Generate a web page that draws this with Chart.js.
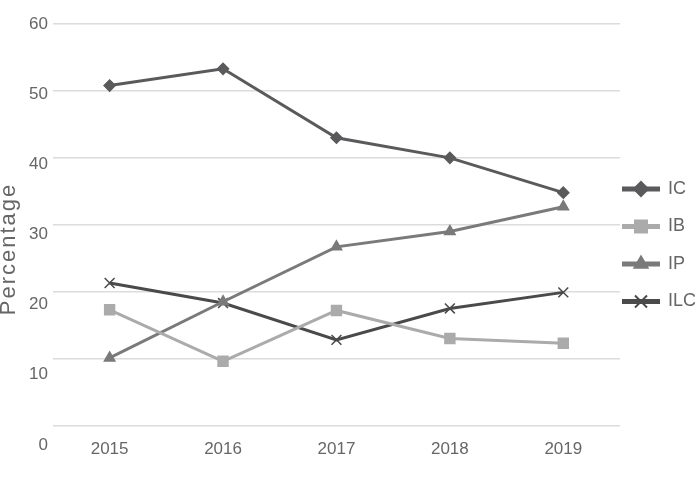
<!DOCTYPE html>
<html>
<head>
<meta charset="utf-8">
<script src="https://cdn.jsdelivr.net/npm/chart.js@4.4.0/dist/chart.umd.min.js"></script>
<style>
  html, body { margin: 0; padding: 0; background: #fff; }
  #wrap { width: 696px; height: 497px; }
</style>
</head>
<body>
<div id="wrap"><canvas id="pct-chart" width="696" height="497"></canvas></div>
<script>
const years = ['2015', '2016', '2017', '2018', '2019'];
const icValues = [50.8, 53.3, 43.0, 40.0, 34.8];
const ibValues = [17.3, 9.6, 17.2, 13.0, 12.3];
const ipValues = [10.1, 18.5, 26.7, 29.0, 32.7];
const ilcValues = [21.3, 18.3, 12.8, 17.5, 19.9];
const yTicks = [0, 10, 20, 30, 40, 50, 60];
const yTitle = 'Percentage';

const fontFamily = '"Helvetica Neue", Helvetica, "Liberation Sans", Arial, sans-serif';
const textColor = '#666';

function makeSet(label, data, color, style, radius)
{
  return {
    label: label,
    data: data,
    borderColor: color,
    backgroundColor: color,
    borderWidth: 3,
    pointStyle: style,
    pointRadius: radius,
    pointBorderWidth: 1.5,
    pointBackgroundColor: color,
    pointBorderColor: color,
    tension: 0,
    fill: false,
  };
}

// force the 0..60 step 10 ticks (also on the label axis, where 0 sits a bit below the plot)
function setTicks(scale)
{
  scale.ticks = yTicks.map(v => ({ value: v }));
}

/* legend on the right + rotated axis title, drawn by hand */
const sideLegend = {
  id: 'sideLegend',
  afterDraw(chart)
  {
    const ctx = chart.ctx;
    ctx.save();
    ctx.fillStyle = textColor;
    ctx.font = '22px ' + fontFamily;
    ctx.letterSpacing = '2px';
    ctx.textAlign = 'center';
    ctx.textBaseline = 'middle';
    ctx.translate(9, 249);
    ctx.rotate(-Math.PI / 2);
    ctx.fillText(yTitle, 0, 0);
    ctx.restore();

    chart.data.datasets.forEach((ds, i) => {
      const y = 189 + i * 37.5;
      ctx.save();
      ctx.strokeStyle = ds.borderColor;
      ctx.fillStyle = ds.borderColor;
      ctx.lineWidth = 5;
      ctx.beginPath();
      ctx.moveTo(622, y);
      ctx.lineTo(660, y);
      ctx.stroke();
      ctx.lineWidth = 2;
      Chart.helpers.drawPoint(ctx, {
        pointStyle: ds.pointStyle,
        radius: ds.pointRadius + 1.5,
        borderWidth: 2,
        rotation: 0,
      }, 641, y);
      ctx.fillStyle = textColor;
      ctx.font = '18px ' + fontFamily;
      ctx.textAlign = 'left';
      ctx.textBaseline = 'middle';
      ctx.fillText(ds.label, 668, y);
      ctx.restore();
    });
  }
};

function drawIt()
{
  const ctx = document.getElementById('pct-chart').getContext('2d');
  new Chart(ctx, {
    type: 'line',
    data: {
      labels: years,
      datasets: [
        makeSet('IC', icValues, '#5a5a5c', 'rectRot', 5.5),
        makeSet('IB', ibValues, '#ababab', 'rect', 7),
        makeSet('IP', ipValues, '#7a7a7a', 'triangle', 6),
        makeSet('ILC', ilcValues, '#4a4a4a', 'crossRot', 7),
      ],
    },
    options: {
      responsive: false,
      animation: false,
      events: [],
      layout: { padding: { left: 24, right: 76, top: 24, bottom: 35.6 } },
      plugins: {
        legend: { display: false },
        tooltip: { enabled: false },
      },
      scales: {
        x: {
          offset: true,
          grid: { display: false, drawTicks: false },
          border: { display: false },
          ticks: { color: textColor, font: { size: 17, family: fontFamily }, padding: 2 },
        },
        y: {
          position: 'left',
          min: -1.71,
          max: 60,
          afterBuildTicks: setTicks,
          ticks: { display: false },
          grid: { color: '#dcdcdc', lineWidth: 1.5, drawTicks: false },
          border: { display: false },
        },
        yl: {
          position: 'left',
          min: 1.13,
          max: 60,
          afterBuildTicks: setTicks,
          ticks: { color: textColor, font: { size: 17, family: fontFamily }, padding: 5 },
          grid: { display: false, drawTicks: false },
          border: { display: false },
        },
      },
    },
    plugins: [sideLegend],
  });
}

window.addEventListener('DOMContentLoaded', () => {
  drawIt();
});
</script>
</body>
</html>
